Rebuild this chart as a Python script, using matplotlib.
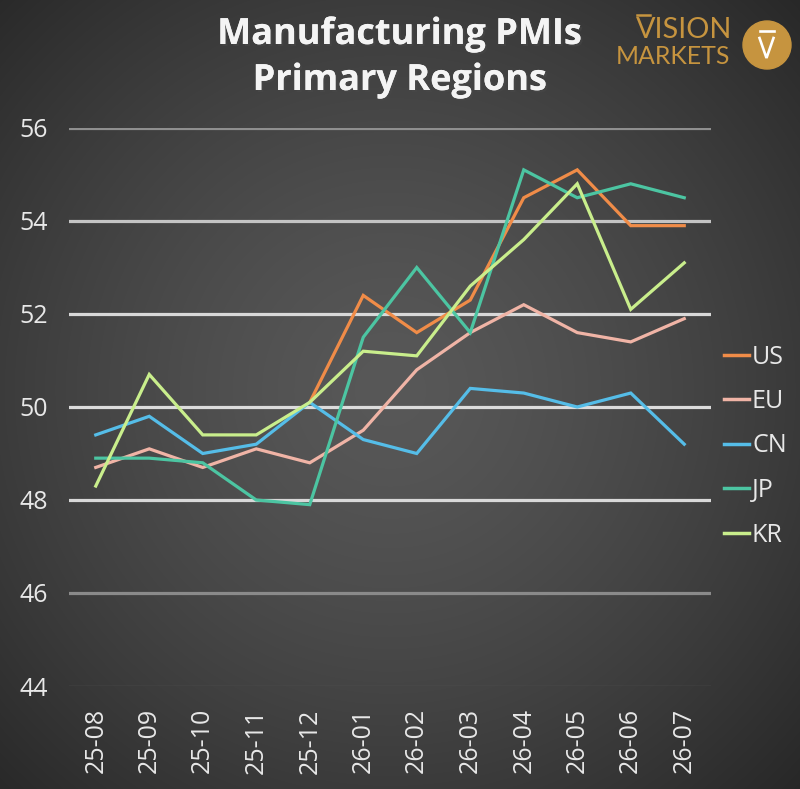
import numpy as np
import matplotlib
matplotlib.use("Agg")
import matplotlib.pyplot as plt
from matplotlib.lines import Line2D
from matplotlib.patches import Circle
import matplotlib.patheffects as pe

months = ["25-08", "25-09", "25-10", "25-11", "25-12", "26-01",
          "26-02", "26-03", "26-04", "26-05", "26-06", "26-07"]
nan = np.nan
us = [nan, nan, nan, nan, 50.1, 52.4, 51.6, 52.3, 54.5, 55.1, 53.9, 53.9]
eu = [48.7, 49.1, 48.7, 49.1, 48.8, 49.5, 50.8, 51.6, 52.2, 51.6, 51.4, 51.9]
cn = [49.4, 49.8, 49.0, 49.2, 50.1, 49.3, 49.0, 50.4, 50.3, 50.0, 50.3, 49.2]
jp = [48.9, 48.9, 48.8, 48.0, 47.9, 51.5, 53.0, 51.6, 55.1, 54.5, 54.8, 54.5]
kr = [48.3, 50.7, 49.4, 49.4, 50.1, 51.2, 51.1, 52.6, 53.6, 54.8, 52.1, 53.1]
series = [("US", us, "#F08C48"), ("EU", eu, "#F0B4A6"), ("CN", cn, "#55BDE8"),
          ("JP", jp, "#4CC5A2"), ("KR", kr, "#C9EE8C")]
yticks = [44, 46, 48, 50, 52, 54, 56]

FONT = "Open Sans"
W, H = 800, 789
fig = plt.figure(figsize=(W / 100, H / 100), dpi=100)

# radial gradient background
bg = fig.add_axes([0, 0, 1, 1], zorder=-10)
yy, xx = np.mgrid[0:H, 0:W]
d = np.sqrt((xx - 390) ** 2 + (yy - 390) ** 2) / 600.0
v = 0x58 - (0x58 - 0x24) * np.clip(d, 0, 1) ** 1.4
img = np.dstack([v, v, v]) / 255.0
bg.imshow(img, extent=[0, W, H, 0], aspect="auto")
bg.set_xlim(0, W)
bg.set_ylim(H, 0)
bg.axis("off")

ax = fig.add_axes([69 / W, 1 - 686 / H, (711 - 69) / W, (686 - 128) / H])
ax.set_facecolor("none")
x = np.arange(len(months))

grid_colors = {44: "#555555", 46: "#8a8a8a", 48: "#d8d8d8", 50: "#dcdcdc",
               52: "#d8d8d8", 54: "#c4c4c4", 56: "#8f8f8f"}
for yv in yticks:
    lw = 1.0 if yv == 44 else 2.3
    ax.axhline(yv, color=grid_colors[yv], lw=lw, zorder=1)

for name, vals, col in series:
    ax.plot(x, vals, color=col, lw=2.3, zorder=3, solid_joinstyle="miter")

ax.set_xlim(-0.5, len(months) - 0.5)
ax.set_ylim(44, 56)
ax.set_yticks(yticks)
ax.set_yticklabels([str(t) for t in yticks], fontsize=18, color="#e8e8e8",
                   family=FONT)
ax.set_xticks(x)
ax.set_xticklabels(months, rotation=90, fontsize=18, color="#e8e8e8",
                   family=FONT)
ax.tick_params(axis="both", length=0)
ax.tick_params(axis="y", pad=36)
ax.tick_params(axis="x", pad=16)
for lab in ax.get_yticklabels():
    lab.set_horizontalalignment("left")
for s in ax.spines.values():
    s.set_visible(False)

handles = [Line2D([0], [0], color=c, lw=2.5) for _, _, c in series]
leg = fig.legend(handles, [n for n, _, _ in series], loc="center left",
                 bbox_to_anchor=(724 / W, 1 - 446 / H), frameon=False,
                 borderpad=0, borderaxespad=0,
                 handlelength=1.0, handletextpad=0.12, labelspacing=0.78,
                 prop={"family": FONT, "size": 18})
for t in leg.get_texts():
    t.set_color("#e8e8e8")

shadow = [pe.withSimplePatchShadow(offset=(1.5, -1.5), alpha=0.5), pe.Normal()]
fig.text(400 / W, 1 - 35 / H, "Manufacturing PMIs", ha="center", va="center",
         fontsize=26, fontweight="bold", color="#f4f4f4", family=FONT,
         path_effects=shadow)
fig.text(400 / W, 1 - 81 / H, "Primary Regions", ha="center", va="center",
         fontsize=26, fontweight="bold", color="#f4f4f4", family=FONT,
         path_effects=shadow)

# logo
gold = "#C6943F"
renderer = fig.canvas.get_renderer()


def fit_text(txt, x0, x1, yc, size0):
    t = fig.text(x0 / W, 1 - yc / H, txt, ha="left", va="center",
                 fontsize=size0, color=gold, family="Lato",
                 fontweight="normal")
    w = t.get_window_extent(renderer).width
    t.set_fontsize(size0 * (x1 - x0) / w)
    return t


fit_text("VISION", 636, 732, 30, 19)
fit_text("MARKETS", 616, 730, 56.5, 19)
lg = fig.add_axes([0, 0, 1, 1], zorder=5)
lg.set_xlim(0, W)
lg.set_ylim(H, 0)
lg.axis("off")
lg.plot([637, 650], [15, 15], color=gold, lw=1.8)
lg.add_patch(Circle((767, 45), 24, color=gold))
lg.plot([759.5, 766.5, 773.5], [38, 58, 38], color="white", lw=1.9,
        solid_joinstyle="miter")
lg.plot([759.5, 773.5], [31, 31], color="white", lw=1.9)

fig.savefig("out.png", dpi=100)
